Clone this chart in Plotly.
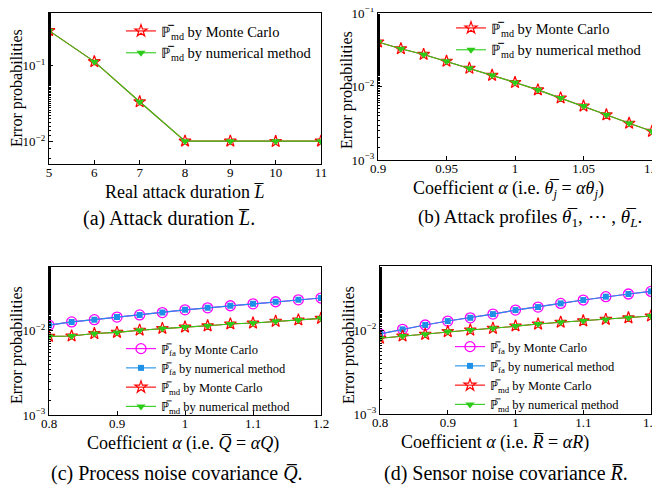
import math
import plotly.graph_objects as go

# ---------- data ----------
L_vals = [5, 6, 7, 8, 9, 10, 11]
a_md_mc = [0.29, 0.113, 0.0334, 0.0101, 0.0101, 0.0100, 0.0101]
a_md_num = [0.29, 0.113, 0.0334, 0.0101, 0.0101, 0.0101, 0.0101]

b_alpha = [0.9, 0.9167, 0.9333, 0.95, 0.9667, 0.9833, 1.0, 1.0167, 1.0333, 1.05, 1.0667, 1.0833, 1.1]
b_md_mc = [0.0406, 0.0329, 0.0275, 0.0222, 0.0178, 0.01426, 0.0114, 0.00904, 0.00701, 0.00544, 0.00413, 0.00317, 0.00246]
b_md_num = [0.0406, 0.0329, 0.0275, 0.0222, 0.0178, 0.01426, 0.0114, 0.00904, 0.00701, 0.00544, 0.00413, 0.00317, 0.00246]

cd_alpha = [0.8, 0.8333, 0.8667, 0.9, 0.9333, 0.9667, 1.0, 1.0333, 1.0667, 1.1, 1.1333, 1.1667, 1.2]
c_fa_mc = [0.0117, 0.0128, 0.0136, 0.0146, 0.0155, 0.0165, 0.0178, 0.0188, 0.0199, 0.0210, 0.0222, 0.0234, 0.0246]
c_fa_num = c_fa_mc
c_md_mc = [0.0086, 0.0087, 0.0093, 0.0096, 0.0102, 0.0107, 0.0111, 0.0115, 0.0121, 0.0124, 0.0130, 0.0135, 0.0141]
c_md_num = c_md_mc

d_fa_mc = [0.0090, 0.0102, 0.0115, 0.0128, 0.0140, 0.0155, 0.0173, 0.0188, 0.0208, 0.0228, 0.0250, 0.0269, 0.0289]
d_fa_num = d_fa_mc
d_md_mc = [0.0080, 0.0085, 0.0089, 0.0096, 0.0100, 0.0105, 0.0112, 0.0118, 0.0124, 0.0129, 0.0134, 0.0140, 0.0147]
d_md_num = d_md_mc

# ---------- styling ----------
FONT = "Liberation Serif"
P_md = "ℙ\u0305<sub>md</sub>"
P_fa = "ℙ\u0305<sub>fa</sub>"

RED = "#ff0000"
GREEN = "#2ecc1a"
MAG = "#ff00ff"
BLUE = "#1e90e8"

fig = go.Figure()


def md_traces(x, y_mc, y_num, xa, ya, leg):
    fig.add_trace(go.Scatter(
        x=x, y=y_mc, mode="lines+markers", name=P_md + " by Monte Carlo",
        line=dict(color=RED, width=1.1),
        marker=dict(symbol="star-open", size=9, color=RED, line=dict(width=1.2)),
        xaxis=xa, yaxis=ya, legend=leg))
    fig.add_trace(go.Scatter(
        x=x, y=y_num, mode="lines+markers", name=P_md + " by numerical method",
        line=dict(color=GREEN, width=1.1),
        marker=dict(symbol="triangle-down", size=8, color=GREEN),
        xaxis=xa, yaxis=ya, legend=leg))


def fa_traces(x, y_mc, y_num, xa, ya, leg):
    fig.add_trace(go.Scatter(
        x=x, y=y_mc, mode="lines+markers", name=P_fa + " by Monte Carlo",
        line=dict(color=MAG, width=1.1),
        marker=dict(symbol="circle-open", size=10, color=MAG, line=dict(width=1.3)),
        xaxis=xa, yaxis=ya, legend=leg))
    fig.add_trace(go.Scatter(
        x=x, y=y_num, mode="lines+markers", name=P_fa + " by numerical method",
        line=dict(color=BLUE, width=1.1),
        marker=dict(symbol="square", size=6, color=BLUE),
        xaxis=xa, yaxis=ya, legend=leg))


md_traces(L_vals, a_md_mc, a_md_num, "x", "y", "legend")
md_traces(b_alpha, b_md_mc, b_md_num, "x2", "y2", "legend2")
fa_traces(cd_alpha, c_fa_mc, c_fa_num, "x3", "y3", "legend3")
md_traces(cd_alpha, c_md_mc, c_md_num, "x3", "y3", "legend3")
fa_traces(cd_alpha, d_fa_mc, d_fa_num, "x4", "y4", "legend4")
md_traces(cd_alpha, d_md_mc, d_md_num, "x4", "y4", "legend4")

# the page adds an 8px body margin; size the figure so that it fills the window
OFF = 8
W, H = 660 - OFF, 488 - OFF


def px(x):
    return (x - OFF) / W


def py(y):
    return 1 - (y - OFF) / H


def xd(a, b):
    return [px(a), px(b)]


def yd(top, bot):
    return [py(bot), py(top)]


axis_common = dict(showline=True, linecolor="black", linewidth=1.3, mirror=True,
                   ticks="inside", ticklen=4, tickcolor="black", showgrid=False,
                   zeroline=False, automargin=False, ticklabeloverflow="allow",
                   tickfont=dict(family=FONT, size=13, color="black"))

ytick_text = {-3: "10<sup>−3</sup>", -2: "10<sup>−2</sup>", -1: "10<sup>−1</sup>"}


def yaxis(rng, vals, domain, anchor):
    d = dict(axis_common)
    d.update(type="log", range=rng, domain=domain, anchor=anchor,
             tickvals=[10 ** v for v in vals], ticktext=[ytick_text[v] for v in vals],
             minor=dict(ticks="inside", ticklen=2, tickcolor="black", showgrid=False))
    return d


def xaxis(rng, vals, labels, domain, anchor):
    d = dict(axis_common)
    d.update(range=rng, domain=domain, anchor=anchor, tickvals=vals, ticktext=labels,
             ticklabelstandoff=-4)
    return d


lg = math.log10

fig.update_layout(
    width=W, height=H, margin=dict(l=0, r=0, t=0, b=0, autoexpand=False),
    paper_bgcolor="white", plot_bgcolor="white", showlegend=True,
    xaxis=xaxis([5, 11], [5, 6, 7, 8, 9, 10, 11], ["5", "6", "7", "8", "9", "10", "11"],
                xd(49, 321), "y"),
    yaxis=yaxis([lg(0.005), lg(0.5)], [-2, -1], yd(12.7, 164.3), "x"),
    xaxis2=xaxis([0.9, 1.1], [0.9, 0.95, 1.0, 1.05, 1.1], ["0.9", "0.95", "1", "1.05", "1.1"],
                 xd(378, 652), "y2"),
    yaxis2=yaxis([-3, -1], [-3, -2, -1], yd(13.3, 160), "x2"),
    xaxis3=xaxis([0.8, 1.2], [0.8, 0.9, 1.0, 1.1, 1.2], ["0.8", "0.9", "1", "1.1", "1.2"],
                 xd(49, 321), "y3"),
    yaxis3=yaxis([-3, lg(0.058)], [-3, -2], yd(266.7, 415), "x3"),
    xaxis4=xaxis([0.8, 1.2], [0.8, 0.9, 1.0, 1.1, 1.2], ["0.8", "0.9", "1", "1.1", "1.2"],
                 xd(380, 651), "y4"),
    yaxis4=yaxis([-3, lg(0.058)], [-3, -2], yd(266, 414), "x4"),
)

leg_common = dict(bgcolor="rgba(255,255,255,0)", borderwidth=0,
                  xanchor="left", yanchor="top", tracegroupgap=0, itemwidth=30)
fig.update_layout(
    legend=dict(leg_common, x=px(121), y=py(15), font=dict(family=FONT, size=14.5, color="black")),
    legend2=dict(leg_common, x=px(451), y=py(12), font=dict(family=FONT, size=14.5, color="black")),
    legend3=dict(leg_common, x=px(121), y=py(334), font=dict(family=FONT, size=12.5, color="black")),
    legend4=dict(leg_common, x=px(450), y=py(332), font=dict(family=FONT, size=12.5, color="black")),
)

# axis titles
x_titles = [
    ("Real attack duration <i>L\u0305</i>", 184.5, 192),
    ("Coefficient <i>α</i> (i.e. <i>θ\u0305<sub>j</sub></i> = <i>αθ<sub>j</sub></i>)", 508, 189),
    ("Coefficient <i>α</i> (i.e. <i>Q\u0305</i> = <i>αQ</i>)", 183, 443),
    ("Coefficient <i>α</i> (i.e. <i>R\u0305</i> = <i>αR</i>)", 495, 442),
]
for text, x, y in x_titles:
    fig.add_annotation(text=text, x=px(x), y=py(y), xref="paper", yref="paper",
                       showarrow=False, xanchor="center", yanchor="middle",
                       font=dict(family=FONT, size=18, color="black"))

y_titles = [(17, 88), (347, 90), (17, 345), (349, 345)]
for x, y in y_titles:
    fig.add_annotation(text="Error probabilities", x=px(x), y=py(y), xref="paper", yref="paper",
                       showarrow=False, xanchor="center", yanchor="middle", textangle=-90,
                       borderpad=0, font=dict(family=FONT, size=16, color="black"))

captions = [
    ("(a) Attack duration <i>L\u0305</i>.", 168.5, 218, 20),
    ("(b) Attack profiles <i>θ\u0305</i><sub>1</sub>, ⋯ , <i>θ\u0305<sub>L</sub></i>.", 530, 218, 19),
    ("(c) Process noise covariance <i>Q\u0305</i>.", 177, 473, 20),
    ("(d) Sensor noise covariance <i>R\u0305</i>.", 506, 473, 20),
]
for text, x, y, size in captions:
    fig.add_annotation(text=text, x=px(x), y=py(y), xref="paper", yref="paper",
                       showarrow=False, xanchor="center", yanchor="middle",
                       font=dict(family=FONT, size=size, color="black"))

fig.write_html("out.html")
